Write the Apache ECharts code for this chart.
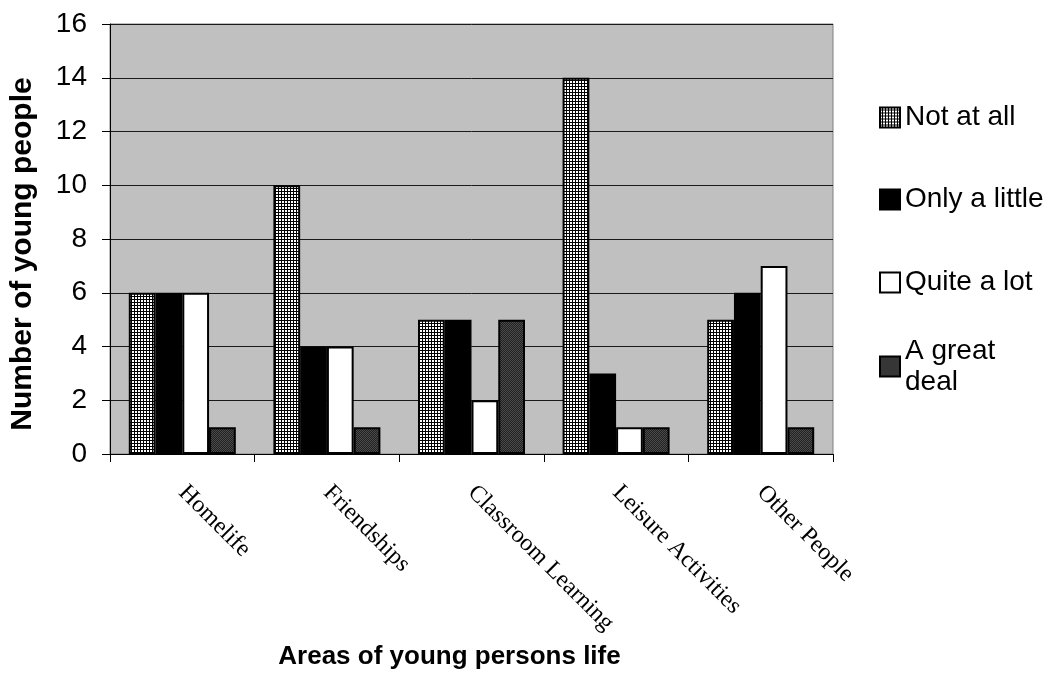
<!DOCTYPE html>
<html>
<head>
<meta charset="utf-8">
<script src="https://cdn.jsdelivr.net/npm/echarts@6/dist/echarts.min.js"></script>
<style>
  html, body { margin: 0; padding: 0; background: #fff; }
  #chart { width: 1060px; height: 675px; }
</style>
</head>
<body>
<div id="chart"></div>
<script>
// Areas of a young person's life and how much they are affected
const categories = ['Homelife', 'Friendships', 'Classroom Learning', 'Leisure Activities', 'Other People'];
const seriesNames = ['Not at all', 'Only a little', 'Quite a lot', 'A great deal'];
const notAtAll = [6, 10, 5, 14, 5];
const onlyALittle = [6, 4, 5, 3, 6];
const quiteALot = [6, 4, 2, 1, 7];
const aGreatDeal = [1, 1, 5, 1, 1];
const yTicks = { min: 0, max: 16, interval: 2 };

// Fill patterns for the bars
function gridPattern() {
  const c = document.createElement('canvas');
  c.width = 3; c.height = 3;
  const g = c.getContext('2d');
  g.fillStyle = '#ffffff'; g.fillRect(0, 0, 3, 3);
  g.fillStyle = '#000000';
  g.fillRect(2, 0, 1, 3);
  g.fillRect(0, 2, 3, 1);
  return { image: c, repeat: 'repeat' };
}
function stipplePattern() {
  const c = document.createElement('canvas');
  c.width = 2; c.height = 2;
  const g = c.getContext('2d');
  g.fillStyle = '#222222'; g.fillRect(0, 0, 2, 2);
  g.fillStyle = '#4a4a4a';
  g.fillRect(0, 0, 1, 1);
  g.fillRect(1, 1, 1, 1);
  return { image: c, repeat: 'repeat' };
}

const fills = [gridPattern(), '#000000', '#ffffff', stipplePattern()];
const values = [notAtAll, onlyALittle, quiteALot, aGreatDeal];

const sans = 'Liberation Sans, Arial, sans-serif';
const serif = 'Liberation Serif, Times New Roman, serif';

// one legend block per entry so each row sits at its own height
const legendTops = [102, 184, 267, 320];
const legends = seriesNames.map((name, i) => ({
  orient: 'vertical',
  left: 879,
  top: legendTops[i],
  padding: 0,
  itemWidth: 20,
  itemHeight: 20,
  selectedMode: false,
  icon: 'rect',
  data: [{
    name: name,
    textStyle: i === 3 ? { padding: [31, 0, 0, 0] } : {}
  }],
  formatter: n => (n === 'A great deal' ? 'A great\ndeal' : n),
  textStyle: { fontFamily: sans, fontSize: 28, color: '#000', lineHeight: 31 }
}));

const chart = echarts.init(document.getElementById('chart'), null, { renderer: 'canvas' });
chart.setOption({
  animation: false,
  backgroundColor: '#ffffff',
  legend: legends,
  grid: {
    left: 107, right: 227, top: 24, bottom: 220,
    show: true,
    backgroundColor: '#c0c0c0',
    borderColor: '#808080',
    borderWidth: 1
  },
  xAxis: {
    type: 'category',
    data: categories,
    name: 'Areas of young persons life',
    nameLocation: 'middle',
    nameGap: 190,
    nameTextStyle: { fontFamily: sans, fontSize: 26, fontWeight: 'bold', color: '#000', padding: [0, 44, 0, 0] },
    axisLine: { lineStyle: { color: '#000', width: 1 } },
    axisTick: { show: true, length: 8, lineStyle: { color: '#000' } },
    axisLabel: {
      interval: 0,
      rotate: -45,
      margin: 35,
      fontFamily: serif,
      fontSize: 24,
      color: '#000'
    }
  },
  yAxis: {
    type: 'value',
    min: yTicks.min,
    max: yTicks.max,
    interval: yTicks.interval,
    name: 'Number of young people',
    nameLocation: 'middle',
    nameGap: 72,
    nameRotate: 90,
    nameTextStyle: { fontFamily: sans, fontSize: 30, fontWeight: 'bold', color: '#000', padding: [0, 30, 0, 0] },
    axisLine: { show: true, lineStyle: { color: '#000', width: 1 } },
    axisTick: { show: true, length: 8, lineStyle: { color: '#000' } },
    axisLabel: { margin: 23, fontFamily: sans, fontSize: 28, color: '#000' },
    splitLine: { show: true, lineStyle: { color: '#1a1a1a', width: 1 } }
  },
  series: seriesNames.map((name, i) => ({
    name: name,
    type: 'bar',
    data: values[i],
    barGap: '0%',
    barCategoryGap: '26%',
    itemStyle: { color: fills[i], borderColor: '#000', borderWidth: 2 }
  }))
});
</script>
</body>
</html>
